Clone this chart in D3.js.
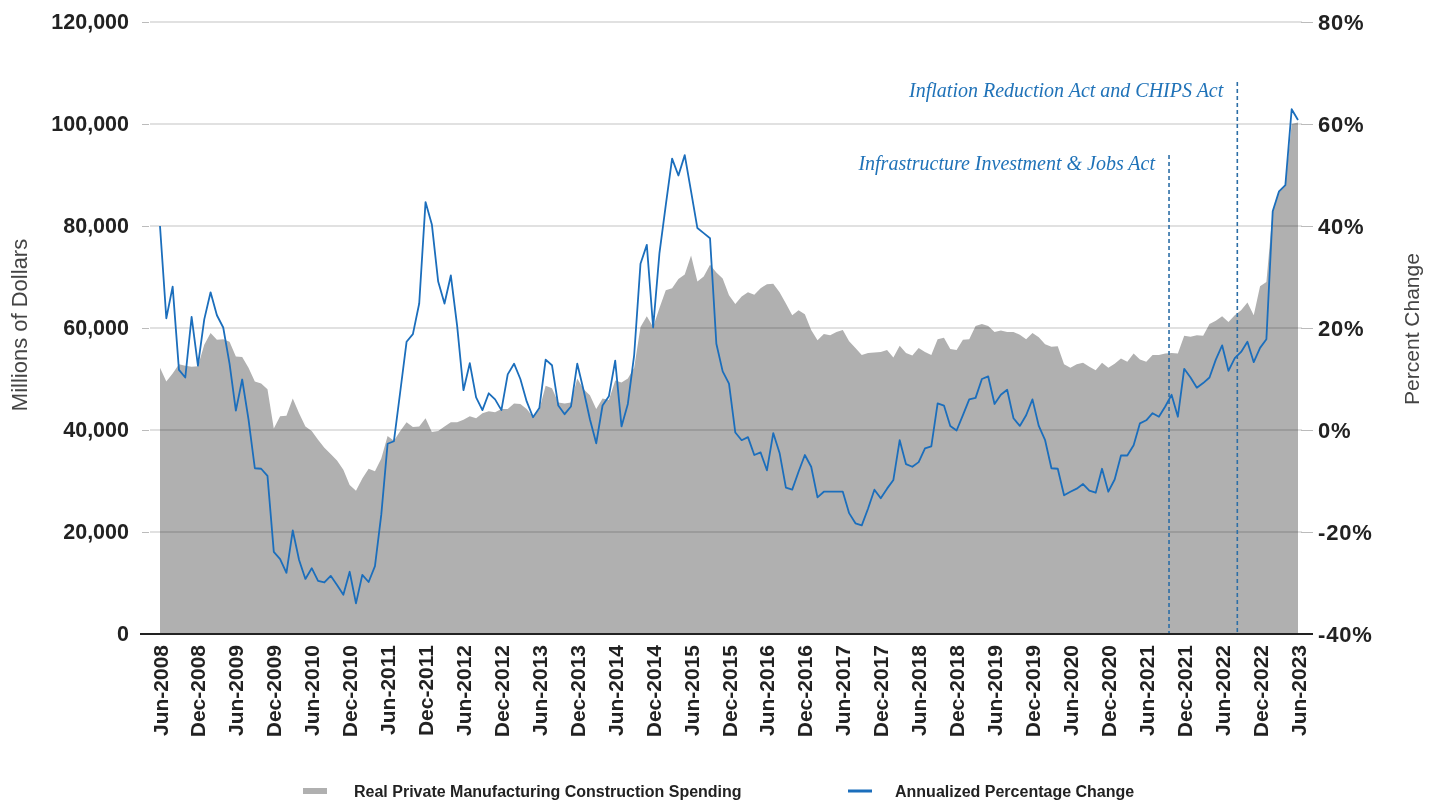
<!DOCTYPE html>
<html>
<head>
<meta charset="utf-8">
<script src="https://cdn.jsdelivr.net/npm/d3@7"></script>
<style>
  html, body { margin: 0; padding: 0; background: #fff; }
  #chart { width: 1435px; height: 802px; }
  #chart text { font-family: "Liberation Sans", Arial, Helvetica, sans-serif; }
</style>
</head>
<body>
<div id="chart"></div>
<script>
// monthly series, Jun-2008 .. Jun-2023
const firstMonth = new Date(2008, 5, 1);
const lastMonth = new Date(2023, 5, 1);

// real private manufacturing construction spending, millions of dollars
const spending = [
  52200, 49500, 51100, 52900, 52600, 52400, 52500, 56700, 59000, 57700, 57800, 57300,
  54400, 54300, 52200, 49500, 49100, 48000, 40300, 42700, 42800, 46200, 43300, 40700,
  39800, 38100, 36500, 35300, 34000, 32200, 29200, 28100, 30500, 32400, 31900, 34400,
  38800, 37900, 39800, 41500, 40600, 40700, 42300, 39600, 39800, 40700, 41500, 41500,
  42000, 42700, 42300, 43300, 43700, 43500, 44100, 44100, 45200, 45100, 44100, 42600,
  44000, 48700, 48200, 45400, 45200, 45400, 50100, 48000, 46800, 44100, 46200, 45900,
  49700, 49300, 50100, 52200, 60200, 62300, 60200, 63900, 67400, 67800, 69600, 70500,
  74200, 69100, 70100, 72400, 70900, 69700, 66400, 64700, 66200, 67000, 66500, 67800,
  68600, 68700, 67000, 64800, 62500, 63500, 62700, 59600, 57600, 58800, 58600, 59200,
  59600, 57400, 56100, 54700, 55100, 55200, 55300, 55700, 54200, 56500, 55100, 54600,
  56100, 55300, 54700, 57800, 58100, 55900, 55700, 57700, 57800, 60400, 60800, 60400,
  59200, 59500, 59200, 59200, 58700, 57800, 59000, 58200, 56800, 56300, 56400, 52900,
  52200, 52900, 53200, 52400, 51700, 53200, 52200, 53000, 54000, 53400, 55000, 53800,
  53400, 54700, 54700, 55000, 55100, 55000, 58500, 58300, 58600, 58500, 60800, 61400,
  62300, 61200, 62500, 63500, 65000, 62500, 68200, 69000, 82900, 86600, 88000, 100000,
  100300
];

// annualized percentage change, %
const pctChange = [
  40.0, 21.9, 28.1, 11.8, 10.3, 22.2, 12.6, 21.7, 27.0, 22.5, 20.1, 13.0,
  3.8, 9.9, 2.1, -7.5, -7.6, -9.0, -23.9, -25.3, -28.0, -19.7, -25.5, -29.2,
  -27.1, -29.6, -29.9, -28.6, -30.4, -32.3, -27.8, -34.0, -28.4, -29.8, -26.7, -16.6,
  -2.7, -2.2, 7.5, 17.3, 18.8, 24.8, 44.7, 40.3, 29.1, 24.8, 30.3, 20.4,
  7.8, 13.1, 6.4, 3.9, 7.2, 6.0, 3.9, 10.9, 13.0, 10.0, 5.6, 2.5,
  4.3, 13.8, 12.7, 4.8, 3.1, 4.6, 13.0, 7.8, 2.1, -2.6, 4.8, 6.6,
  13.6, 0.7, 5.1, 14.7, 32.6, 36.3, 20.1, 34.7, 44.1, 53.2, 49.9, 53.9,
  46.8, 39.6, 38.6, 37.6, 16.9, 11.5, 9.1, -0.5, -2.0, -1.4, -4.9, -4.4,
  -7.9, -0.6, -4.5, -11.3, -11.7, -8.2, -4.9, -7.2, -13.2, -12.1, -12.1, -12.1,
  -12.1, -16.3, -18.3, -18.7, -15.4, -11.7, -13.4, -11.5, -9.8, -2.0, -6.7, -7.2,
  -6.3, -3.6, -3.2, 5.2, 4.8, 0.8, -0.1, 2.9, 6.0, 6.3, 10.0, 10.5,
  5.1, 6.9, 7.9, 2.3, 0.8, 2.9, 6.0, 0.8, -2.0, -7.5, -7.6, -12.8,
  -12.1, -11.5, -10.6, -11.9, -12.3, -7.6, -12.1, -9.7, -5.0, -5.0, -3.0, 1.3,
  1.9, 3.3, 2.6, 4.6, 6.9, 2.6, 12.0, 10.3, 8.3, 9.2, 10.3, 13.8,
  16.6, 11.6, 14.1, 15.3, 17.3, 13.3, 16.1, 17.8, 42.9, 46.8, 48.0, 62.9,
  60.8
];

const tickLabels = [
  'Jun-2008', 'Dec-2008', 'Jun-2009', 'Dec-2009', 'Jun-2010', 'Dec-2010', 'Jun-2011', 'Dec-2011',
  'Jun-2012', 'Dec-2012', 'Jun-2013', 'Dec-2013', 'Jun-2014', 'Dec-2014', 'Jun-2015', 'Dec-2015',
  'Jun-2016', 'Dec-2016', 'Jun-2017', 'Dec-2017', 'Jun-2018', 'Dec-2018', 'Jun-2019', 'Dec-2019',
  'Jun-2020', 'Dec-2020', 'Jun-2021', 'Dec-2021', 'Jun-2022', 'Dec-2022', 'Jun-2023'
];

const leftTicks = [0, 20000, 40000, 60000, 80000, 100000, 120000];
const rightTicks = [-40, -20, 0, 20, 40, 60, 80];

// policy markers, position in months since Jun-2008
const annotations = [
  { label: 'Infrastructure Investment & Jobs Act', month: 159.6 },
  { label: 'Inflation Reduction Act and CHIPS Act', month: 170.4 }
];

const legendItems = [
  { label: 'Real Private Manufacturing Construction Spending', kind: 'area' },
  { label: 'Annualized Percentage Change', kind: 'line' }
];

const GRAY = '#b0b0b0';
const BLUE = '#1b6ebc';

function render() {
    const W = 1435, H = 802;
    const plot = { left: 150, right: 1302, top: 22, bottom: 634 };

    const svg = d3.select('#chart')
        .append('svg')
        .attr('width', W)
        .attr('height', H);

    const months = d3.timeMonth.range(firstMonth, d3.timeMonth.offset(lastMonth, 1));
    const fmt = d3.timeFormat('%b-%Y');

    const x = d3.scaleLinear()
        .domain([0, months.length - 1])
        .range([160, 1298]);

    const yL = d3.scaleLinear()
        .domain([0, 120000])
        .range([plot.bottom, plot.top]);

    const yR = d3.scaleLinear()
        .domain([-40, 80])
        .range([plot.bottom, plot.top]);

    // spending area
    const area = d3.area()
        .x((d, i) => x(i))
        .y0(yL(0))
        .y1(d => yL(d));

    svg.append('path')
        .datum(spending)
        .attr('d', area)
        .attr('fill', GRAY);

    // gridlines (multiply so they darken over the area)
    svg.append('g')
        .selectAll('line')
        .data(leftTicks.filter(d => d > 0))
        .enter()
        .append('line')
        .attr('x1', plot.left)
        .attr('x2', plot.right)
        .attr('y1', d => yL(d))
        .attr('y2', d => yL(d))
        .attr('stroke', '#c4c4c4')
        .attr('stroke-width', 1.2)
        .style('mix-blend-mode', 'multiply');

    // annotation markers
    const ann = svg.append('g');
    annotations.forEach((a, i) => {
        const ax = x(a.month);
        const top = i === 0 ? 155 : 82;
        ann.append('line')
            .attr('x1', ax).attr('x2', ax)
            .attr('y1', top).attr('y2', plot.bottom)
            .attr('stroke', '#2d6ea6')
            .attr('stroke-width', 1.6)
            .attr('stroke-dasharray', '4,3');
        ann.append('text')
            .attr('x', ax - 14)
            .attr('y', top + 15)
            .attr('text-anchor', 'end')
            .style('font-family', '"Liberation Serif", "Times New Roman", serif')
            .style('font-style', 'italic')
            .style('font-size', '20px')
            .style('fill', '#1f72b8')
            .text(a.label);
    });

    // percent change line
    const line = d3.line()
        .x((d, i) => x(i))
        .y(d => yR(d));

    svg.append('path')
        .datum(pctChange)
        .attr('d', line)
        .attr('fill', 'none')
        .attr('stroke', BLUE)
        .attr('stroke-width', 1.8)
        .attr('stroke-linejoin', 'round');

    // left axis
    const leftAxis = svg.append('g')
        .attr('transform', `translate(${plot.left - 1},0)`)
        .call(d3.axisLeft(yL).tickValues(leftTicks).tickSize(7).tickPadding(13)
            .tickFormat(d3.format(',')));
    leftAxis.select('.domain').remove();
    leftAxis.selectAll('line').attr('stroke', '#bbb');
    leftAxis.selectAll('text')
        .style('font-size', '21.5px')
        .style('font-weight', 'bold')
        .style('fill', '#222');

    // right axis
    const rightAxis = svg.append('g')
        .attr('transform', `translate(${plot.right - 1},0)`)
        .call(d3.axisRight(yR).tickValues(rightTicks).tickSize(12).tickPadding(5)
            .tickFormat(d => d + '%'));
    rightAxis.select('.domain').remove();
    rightAxis.selectAll('line').attr('stroke', '#bbb');
    rightAxis.selectAll('text')
        .style('font-size', '22px')
        .style('font-weight', 'bold')
        .style('letter-spacing', '0.8px')
        .style('fill', '#222');

    // x axis baseline + labels
    svg.append('line')
        .attr('x1', 140).attr('x2', 1313)
        .attr('y1', plot.bottom).attr('y2', plot.bottom)
        .attr('stroke', '#222')
        .attr('stroke-width', 2);

    const labelIdx = tickLabels.map(l => months.findIndex(m => fmt(m) === l));

    svg.append('g')
        .selectAll('text')
        .data(tickLabels)
        .enter()
        .append('text')
        .attr('transform', (d, i) => `translate(${x(labelIdx[i])},645) rotate(-90)`)
        .attr('text-anchor', 'end')
        .attr('dy', '0.36em')
        .style('font-size', '21px')
        .style('font-weight', 'bold')
        .style('fill', '#222')
        .text(d => d);

    // axis titles
    svg.append('text')
        .attr('transform', 'translate(27,325) rotate(-90)')
        .attr('text-anchor', 'middle')
        .style('font-size', '22px')
        .style('fill', '#444')
        .text('Millions of Dollars');

    svg.append('text')
        .attr('transform', `translate(1419,${(plot.top + plot.bottom) / 2 + 1}) rotate(-90)`)
        .attr('text-anchor', 'middle')
        .style('font-size', '21px')
        .style('fill', '#444')
        .text('Percent Change');

    // legend
    const legendX = [303, 848];
    const legend = svg.append('g').attr('transform', 'translate(0,791)');
    legendItems.forEach((item, i) => {
        if (item.kind === 'area') {
            legend.append('rect')
                .attr('x', legendX[i]).attr('y', -3)
                .attr('width', 24).attr('height', 6)
                .attr('fill', GRAY);
        } else {
            legend.append('rect')
                .attr('x', legendX[i]).attr('y', -1.5)
                .attr('width', 24).attr('height', 3)
                .attr('fill', BLUE);
        }
        legend.append('text')
            .attr('x', legendX[i] + (i === 0 ? 51 : 47))
            .attr('dy', '0.36em')
            .style('font-size', '16px')
            .style('font-weight', 'bold')
            .style('fill', '#222')
            .text(item.label);
    });
}

render();
</script>
</body>
</html>
